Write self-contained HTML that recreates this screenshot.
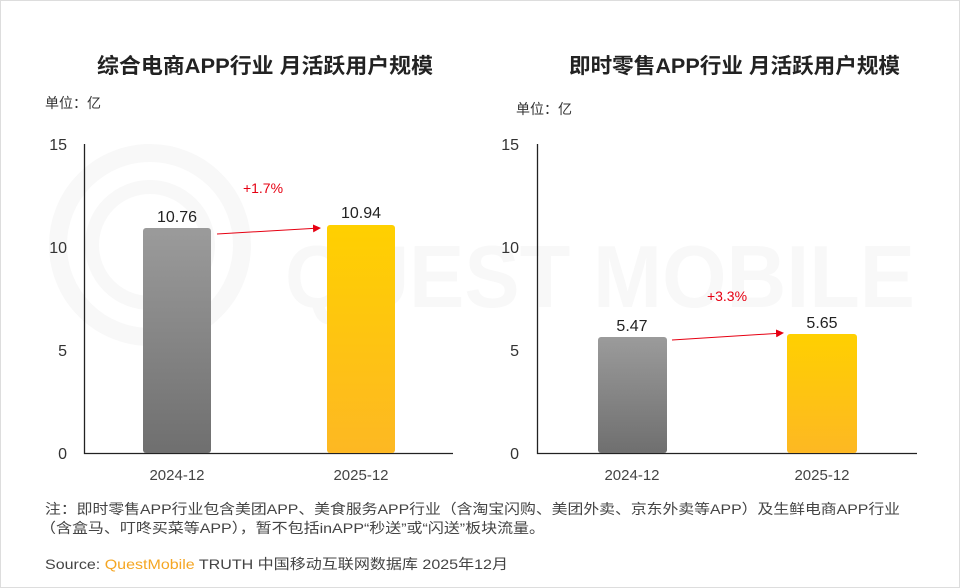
<!DOCTYPE html>
<html><head><meta charset="utf-8"><style>
body{margin:0;background:#fff;}
svg{display:block;font-family:"Liberation Sans","Noto Sans CJK SC",sans-serif;}
</style></head><body>
<svg width="960" height="588" viewBox="0 0 960 588" xmlns="http://www.w3.org/2000/svg">
<defs>
<linearGradient id="g" x1="0" y1="0" x2="0" y2="1"><stop offset="0" stop-color="#9b9b9b"/><stop offset="1" stop-color="#6f6f6f"/></linearGradient>
<linearGradient id="y" x1="0" y1="0" x2="0" y2="1"><stop offset="0" stop-color="#ffd000"/><stop offset="1" stop-color="#fdb823"/></linearGradient>
<marker id="ar" markerWidth="8" markerHeight="8" refX="7" refY="4" orient="auto" markerUnits="userSpaceOnUse"><path d="M0,0 L8,4 L0,8 z" fill="#e60012"/></marker>
</defs>
<rect x="0.5" y="0.5" width="959" height="587" fill="#fff" stroke="#ddd"/>
<!-- watermark -->
<circle cx="150" cy="245" r="92" fill="none" stroke="#f8f8f8" stroke-width="18"/>
<circle cx="150" cy="245" r="58" fill="none" stroke="#f8f8f8" stroke-width="14"/>
<text x="285" y="307" font-size="88" font-weight="bold" fill="#f8f8f8" textLength="630" lengthAdjust="spacingAndGlyphs">QUEST MOBILE</text>

<text x="97" y="73" font-size="21" font-weight="bold" fill="#222" textLength="336" lengthAdjust="spacingAndGlyphs">综合电商APP行业  月活跃用户规模</text>
<text x="569" y="73" font-size="21" font-weight="bold" fill="#222" textLength="331" lengthAdjust="spacingAndGlyphs">即时零售APP行业  月活跃用户规模</text>
<text x="45" y="108" font-size="14" fill="#333">单位：亿</text>
<text x="516" y="114" font-size="14" fill="#333">单位：亿</text>

<g font-size="16" fill="#333" text-anchor="end">
<text x="67" y="150">15</text><text x="67" y="253">10</text><text x="67" y="356">5</text><text x="67" y="459">0</text>
<text x="519" y="150">15</text><text x="519" y="253">10</text><text x="519" y="356">5</text><text x="519" y="459">0</text>
</g>
<path d="M84.5 144 V453.5 H453" fill="none" stroke="#222" stroke-width="1.3"/>
<path d="M537.5 144 V453.5 H917" fill="none" stroke="#222" stroke-width="1.3"/>

<rect x="143" y="228" width="68" height="225" rx="3" fill="url(#g)"/>
<rect x="327" y="225" width="68" height="228" rx="3" fill="url(#y)"/>
<rect x="598" y="337" width="69" height="116" rx="3" fill="url(#g)"/>
<rect x="787" y="334" width="70" height="119" rx="3" fill="url(#y)"/>

<g font-size="16" fill="#222" text-anchor="middle">
<text x="177" y="222">10.76</text><text x="361" y="218">10.94</text>
<text x="632" y="331">5.47</text><text x="822" y="328">5.65</text>
</g>
<g font-size="15" fill="#444" text-anchor="middle">
<text x="177" y="480">2024-12</text><text x="361" y="480">2025-12</text>
<text x="632" y="480">2024-12</text><text x="822" y="480">2025-12</text>
</g>
<line x1="217" y1="234" x2="320" y2="228" stroke="#e60012" stroke-width="1" marker-end="url(#ar)"/>
<line x1="672" y1="340" x2="783" y2="333" stroke="#e60012" stroke-width="1" marker-end="url(#ar)"/>
<text x="263" y="193" font-size="14" fill="#e60012" text-anchor="middle">+1.7%</text>
<text x="727" y="301" font-size="14" fill="#e60012" text-anchor="middle">+3.3%</text>

<g font-size="14" fill="#444">
<text x="45" y="514" textLength="855" lengthAdjust="spacingAndGlyphs">注：即时零售APP行业包含美团APP、美食服务APP行业（含淘宝闪购、美团外卖、京东外卖等APP）及生鲜电商APP行业</text>
<text x="40" y="533" textLength="505" lengthAdjust="spacingAndGlyphs">（含盒马、叮咚买菜等APP），暂不包括inAPP“秒送”或“闪送”板块流量。</text>
<text x="45" y="569" textLength="463" lengthAdjust="spacingAndGlyphs">Source:  <tspan fill="#f5a623">QuestMobile</tspan> TRUTH 中国移动互联网数据库 2025年12月</text>
</g>
</svg>
</body></html>
